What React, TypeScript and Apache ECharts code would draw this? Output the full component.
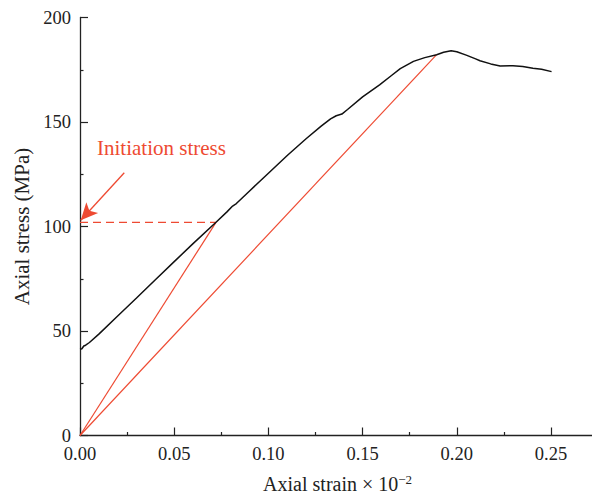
import React, { useEffect, useRef } from "react";
import * as echarts from "echarts";

// Measured stress–strain curve (strain ×10^-2, stress in MPa)
const strain: number[] = [
  0, 0.001, 0.002, 0.003, 0.005, 0.01, 0.02, 0.03, 0.04, 0.05, 0.06, 0.0722,
  0.078, 0.081, 0.083, 0.09, 0.1, 0.11, 0.12, 0.128, 0.133, 0.136, 0.139,
  0.142, 0.15, 0.159, 0.165, 0.17, 0.177, 0.183, 0.1893, 0.193, 0.197, 0.2,
  0.205, 0.21, 0.2123, 0.218, 0.223, 0.2298, 0.235, 0.2404, 0.245, 0.2503,
];
const stress: number[] = [
  41.2, 41.5, 42.8, 43.2, 44.5, 48.5, 57.2, 65.8, 74.5, 83.2, 91.8, 102,
  107, 109.8, 111, 117, 125.5, 134, 142, 148, 151.5, 153, 153.8,
  156, 162, 167.8, 172, 175.5, 179, 180.8, 182.2, 183.4, 184.1, 183.6,
  182, 180.2, 179.3, 177.8, 176.8, 176.9, 176.6, 175.7, 175.2, 174.1,
];

// Construction lines: origin to crack-initiation point and origin to the point near peak
const initiationPoint: [number, number] = [0.0722, 102];
const peakChordPoint: [number, number] = [0.1893, 182.2];
const origin: [number, number] = [0, 0];

// Annotation arrow (tail → head) in data coordinates
const arrowTail: [number, number] = [0.0235, 125.7];
const arrowHead: [number, number] = [0.0004, 103];

const annotationText = "Initiation stress";

const xTicks = { min: 0, max: 0.3, interval: 0.05 };
const yTicks = { min: 0, max: 200, interval: 50 };

const RED = "#ee4a32";
const FONT = "Liberation Serif";

// The chart canvas is wider than the visible frame so the strain axis runs off the right edge.
const FRAME_W = 592;
const FRAME_H = 500;
const CHART_W = 660;

export default function App() {
  const ref = useRef<HTMLDivElement>(null);

  useEffect(() => {
    if (!ref.current) return;
    const chart = echarts.init(ref.current, undefined, { renderer: "svg" });
    const curve = strain.map((s, i) => [s, stress[i]]);

    const axisCommon = {
      axisLine: { show: true, lineStyle: { color: "#222", width: 1.3 } },
      axisTick: { show: true, inside: true, length: 8, lineStyle: { color: "#222", width: 1.2 } },
      minorTick: { show: true, splitNumber: 2, length: 3.5, lineStyle: { color: "#222", width: 1.2 } },
      splitLine: { show: false },
      minorSplitLine: { show: false },
      axisLabel: { color: "#222", fontFamily: FONT, fontSize: 18.5, lineHeight: 15 },
    };

    chart.setOption({
      animation: false,
      backgroundColor: "#fff",
      grid: { left: 80, right: 14.8, top: 17.5, bottom: 64.5, containLabel: false },
      xAxis: {
        type: "value",
        ...xTicks,
        ...axisCommon,
        axisLabel: {
          ...axisCommon.axisLabel,
          margin: 11,
          showMaxLabel: false,
          formatter: (v: number) => v.toFixed(2),
        },
        name: "Axial strain × 10{sup|−2}",
        nameLocation: "middle",
        nameGap: 37,
        nameTextStyle: {
          color: "#222",
          fontFamily: FONT,
          fontSize: 20,
          padding: [0, 50, 0, 0],
          rich: {
            sup: { fontFamily: FONT, fontSize: 13, color: "#222", padding: [0, 0, 9, 0] },
          },
        },
      },
      yAxis: {
        type: "value",
        ...yTicks,
        ...axisCommon,
        axisLabel: { ...axisCommon.axisLabel, margin: 9 },
        name: "Axial stress (MPa)",
        nameLocation: "middle",
        nameGap: 48,
        nameTextStyle: { color: "#222", fontFamily: FONT, fontSize: 21 },
      },
      series: [
        {
          type: "line",
          data: curve,
          showSymbol: false,
          lineStyle: { color: "#111", width: 1.5 },
          z: 3,
        },
        {
          type: "line",
          data: [origin, initiationPoint],
          showSymbol: false,
          lineStyle: { color: RED, width: 1.2 },
          z: 2,
        },
        {
          type: "line",
          data: [origin, peakChordPoint],
          showSymbol: false,
          lineStyle: { color: RED, width: 1.2 },
          z: 2,
        },
        {
          type: "line",
          data: [[0, initiationPoint[1]], initiationPoint],
          showSymbol: false,
          lineStyle: { color: RED, width: 1.3, type: [8, 5] },
          z: 2,
          markLine: {
            silent: true,
            symbol: ["none", "arrow"],
            symbolSize: [12, 17],
            label: { show: false },
            lineStyle: { color: RED, width: 1.3, type: "solid" },
            data: [[{ coord: arrowTail }, { coord: arrowHead }]],
          },
        },
      ],
      graphic: [
        {
          type: "text",
          left: 97,
          top: 137,
          style: {
            text: annotationText,
            fill: RED,
            font: `21px "${FONT}"`,
          },
        },
      ],
    });

    return () => chart.dispose();
  }, []);

  return (
    <div
      style={{
        position: "absolute",
        left: 0,
        top: 0,
        width: FRAME_W,
        height: FRAME_H,
        overflow: "hidden",
        background: "#fff",
      }}
    >
      <div ref={ref} style={{ width: CHART_W, height: FRAME_H }} />
    </div>
  );
}
